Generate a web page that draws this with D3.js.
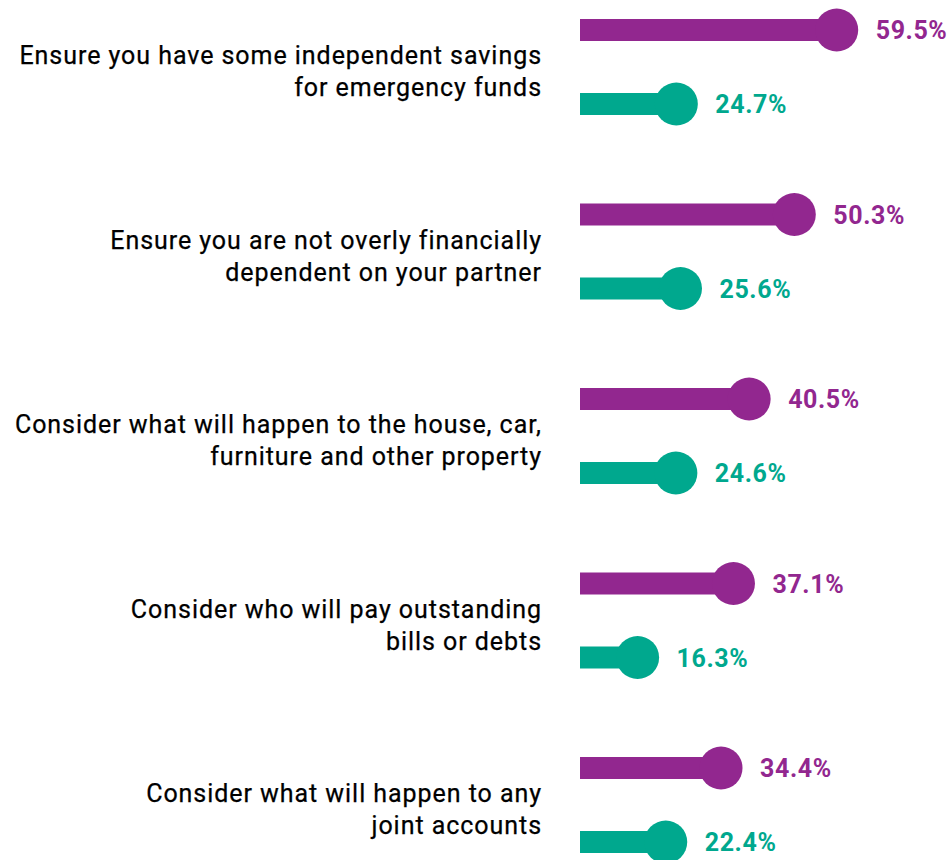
<!DOCTYPE html>
<html>
<head>
<meta charset="utf-8">
<script src="https://cdn.jsdelivr.net/npm/d3@7"></script>
<style>
  html, body { margin: 0; padding: 0; background: #ffffff; }
  svg { display: block; }
</style>
</head>
<body>
<svg id="chart" width="950" height="860"></svg>
<script>
const categories = [
  ["Ensure you have some independent savings", "for emergency funds"],
  ["Ensure you are not overly financially", "dependent on your partner"],
  ["Consider what will happen to the house, car,", "furniture and other property"],
  ["Consider who will pay outstanding", "bills or debts"],
  ["Consider what will happen to any", "joint accounts"]
];
const seriesA = [59.5, 50.3, 40.5, 37.1, 34.4];
const seriesB = [24.7, 25.6, 24.6, 16.3, 22.4];
const colors = ["#92278f", "#00a88e"];

const svg = d3.select("#chart");
const x = d3.scaleLinear().domain([0, 60]).range([562.5, 839.0]);
const y = d3.scalePoint().domain(d3.range(categories.length)).range([30, 768]);
const pairOffset = 74;
const barStart = 580, barH = 22, r = 21.5;

const groups = svg.selectAll("g.grp").data(categories).join("g").attr("class", "grp")
  .attr("transform", (d, i) => `translate(0,${y(i)})`);

// category labels
groups.each(function(d) {
  const t = d3.select(this).append("text")
    .attr("text-anchor", "end")
    .attr("font-family", "Roboto, sans-serif")
    .attr("font-size", 25)
    .attr("letter-spacing", "0.95px")
    .attr("fill", "#000")
    .attr("stroke", "#000")
    .attr("stroke-width", 0.25);
  d.forEach((line, k) => {
    t.append("tspan").attr("x", 542).attr("y", 34 + k * 32).text(line);
  });
});

[seriesA, seriesB].forEach((series, s) => {
  const g = groups.append("g").attr("transform", `translate(0,${s * pairOffset})`);
  g.append("rect")
    .attr("x", barStart)
    .attr("y", -barH / 2)
    .attr("height", barH)
    .attr("width", (d, i) => x(series[i]) - barStart)
    .attr("fill", colors[s]);
  g.append("circle")
    .attr("cx", (d, i) => x(series[i]))
    .attr("cy", 0)
    .attr("r", r)
    .attr("fill", colors[s]);
  g.append("text")
    .attr("x", (d, i) => x(series[i]) + r + 17.5)
    .attr("y", 0)
    .attr("dy", "0.36em")
    .attr("font-family", "Roboto, sans-serif")
    .attr("font-weight", "bold")
    .attr("font-size", 25)
    .attr("letter-spacing", "0.6px")
    .attr("fill", colors[s])
    .text((d, i) => series[i].toFixed(1) + "%");
});
</script>
</body>
</html>
